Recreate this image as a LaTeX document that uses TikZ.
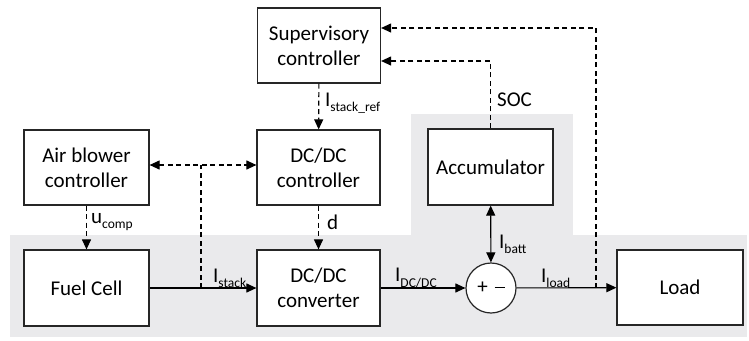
\documentclass[tikz,border=0pt]{standalone}
\usepackage{fontspec}
\setmainfont{Carlito}
\usetikzlibrary{arrows.meta}
\newcommand\lowsub[1]{\raisebox{-0.25em}{\fontsize{13.5}{14}\selectfont #1}}
\definecolor{bandgray}{HTML}{EAEAEC}
\tikzset{
  tip/.tip={Triangle[length=10pt,width=9pt]},
  block/.style={draw=black!85, line width=1.2pt, fill=white, align=center,
    font=\fontsize{21}{25}\selectfont, inner sep=0pt},
  conn/.style={line width=1.1pt, -tip},
  dconn/.style={conn, dash pattern=on 5pt off 3.5pt},
  dline/.style={line width=1.1pt, dash pattern=on 5pt off 3.5pt},
  lbl/.style={font=\fontsize{21}{25}\selectfont, inner sep=0pt},
}
\begin{document}
\begin{tikzpicture}[x=1pt,y=-1pt]
  \useasboundingbox (0,0) rectangle (749,340);
  % shaded plant area
  \fill[bandgray] (10,235) rectangle (747,337);
  \fill[bandgray] (411,114) rectangle (573,235);

  % blocks
  \node[block, minimum width=123pt, minimum height=75pt] (sup) at (319,45.5) {Supervisory\\controller};
  \node[block, minimum width=125pt, minimum height=75pt] (air) at (86.5,167.5) {Air blower\\controller};
  \node[block, minimum width=123pt, minimum height=75pt] (dcc) at (318.5,167.5) {DC/DC\\controller};
  \node[block, minimum width=125pt, minimum height=76pt] (fc) at (86.5,288) {Fuel Cell};
  \node[block, minimum width=123pt, minimum height=76pt] (conv) at (318.5,288) {DC/DC\\converter};
  \node[block, minimum width=125pt, minimum height=76pt] (acc) at (490.5,167) {Accumulator};
  \node[block, minimum width=126pt, minimum height=75pt] (load) at (680,287.5) {Load};
  \node[block, circle, minimum size=50pt] (sum) at (491,288) {+\hspace{7pt}\rule[5.6pt]{10pt}{1.4pt}};

  % branch points and corner levels
  \coordinate (j1) at (201,288);
  \coordinate (t1) at (201,165);
  \coordinate (j2) at (596,288);
  \coordinate (socy) at (0,61);
  \coordinate (loady) at (0,28);

  % power path
  \draw[conn] (fc) -- (conv);
  \draw[conn] (conv) -- (sum);
  \draw[conn] (sum) -- (load);
  \draw[line width=1.1pt, tip-tip] (acc) -- (sum);

  % signal paths
  \draw[dline] (j1) -- (t1);
  \draw[dconn, tip-tip] (air.east |- t1) -- (dcc.west |- t1);
  \draw[dconn] (sup) -- (dcc);
  \draw[dconn] (dcc) -- (conv);
  \draw[dconn] (air) -- (fc);
  \draw[dconn] (acc.north) |- (sup.east |- socy);
  \draw[dconn] (j2) |- (sup.east |- loady);

  % labels
  \node[lbl, anchor=west] (lstack) at (213,278) {I\lowsub{stack}};
  \node[lbl, anchor=west] (lref) at (325,103) {I\lowsub{stack\_ref}};
  \node[lbl, anchor=west] (lcomp) at (91,222) {u\lowsub{comp}};
  \node[lbl, anchor=west] (ld) at (327,222) {d};
  \node[lbl, anchor=west] (lsoc) at (497,100) {SOC};
  \node[lbl, anchor=west] (lbatt) at (499,244) {I\lowsub{batt}};
  \node[lbl, anchor=west] (ldcdc) at (395,278) {I\lowsub{DC/DC}};
  \node[lbl, anchor=west] (lload) at (541,278) {I\lowsub{load}};
\end{tikzpicture}
\end{document}
